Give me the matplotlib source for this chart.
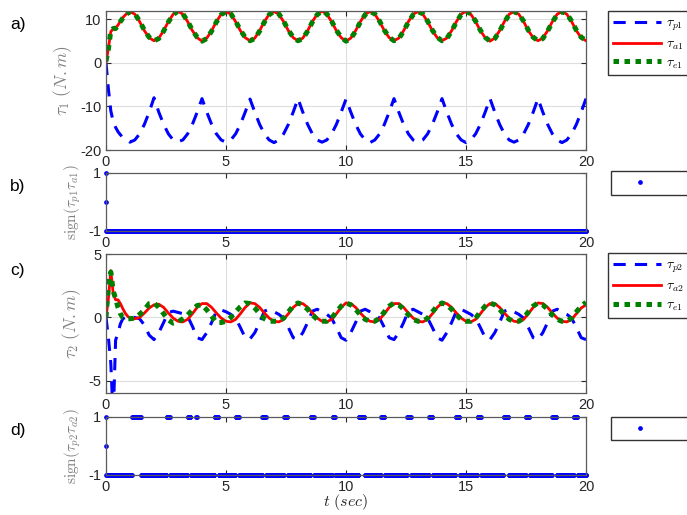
import numpy as np
import matplotlib.pyplot as plt

plt.rcParams['font.family'] = ['Liberation Sans', 'DejaVu Sans']
plt.rcParams['mathtext.fontset'] = 'cm'
plt.rcParams['axes.unicode_minus'] = False

# sample times: 0..0.9 every 0.1 s, then 1.0..20.0 every 0.2 s
t = np.round(np.r_[np.arange(0, 1, 0.1), np.arange(1, 20.01, 0.2)], 2)

# joint 1 torques (N.m)
tau_p1 = [0.0, -6.0, -11.0, -13.5, -14.8, -15.8, -16.5, -17.1, -17.5, -17.8,
          -18.2, -17.7, -16.3, -14.1, -11.3, -8.0, -11.3, -14.1, -16.3, -17.7,
          -18.1, -17.7, -16.3, -14.1, -11.3, -8.2, -11.3, -14.1, -16.3, -17.7,
          -18.2, -17.7, -16.3, -14.1, -11.3, -8.3, -11.3, -14.1, -16.3, -17.7,
          -18.3, -17.7, -16.3, -14.1, -11.3, -8.2, -11.3, -14.1, -16.3, -17.7,
          -18.2, -17.7, -16.3, -14.1, -11.3, -8.3, -11.3, -14.1, -16.3, -17.7,
          -18.3, -17.7, -16.3, -14.1, -11.3, -8.2, -11.3, -14.1, -16.3, -17.7,
          -18.2, -17.7, -16.3, -14.1, -11.3, -8.2, -11.3, -14.1, -16.3, -17.7,
          -18.3, -17.7, -16.3, -14.1, -11.3, -8.2, -11.3, -14.1, -16.3, -17.7,
          -18.2, -17.7, -16.3, -14.1, -11.3, -8.2, -11.3, -14.1, -16.3, -17.7,
          -18.3, -17.7, -16.3, -14.1, -11.3, -8.2]
tau_a1 = [0.0, 3.4, 7.2, 7.8, 8.0, 8.7, 9.6, 10.4, 11.0, 11.5,
          11.8, 11.2, 9.5, 7.4, 5.8, 5.1, 5.7, 7.4, 9.5, 11.2,
          11.9, 11.2, 9.5, 7.4, 5.8, 5.0, 5.7, 7.4, 9.5, 11.2,
          11.8, 11.2, 9.5, 7.4, 5.8, 5.1, 5.7, 7.4, 9.5, 11.2,
          11.8, 11.2, 9.5, 7.4, 5.8, 5.1, 5.7, 7.4, 9.5, 11.2,
          11.9, 11.2, 9.5, 7.4, 5.8, 5.0, 5.7, 7.4, 9.5, 11.2,
          11.8, 11.2, 9.5, 7.4, 5.8, 5.1, 5.7, 7.4, 9.5, 11.2,
          11.8, 11.2, 9.5, 7.4, 5.8, 5.1, 5.7, 7.4, 9.5, 11.2,
          11.9, 11.2, 9.5, 7.4, 5.8, 5.0, 5.7, 7.4, 9.5, 11.2,
          11.8, 11.2, 9.5, 7.4, 5.8, 5.1, 5.7, 7.4, 9.5, 11.2,
          11.8, 11.2, 9.5, 7.4, 5.8, 5.1]
tau_e1 = [0.4, 3.2, 7.4, 7.9, 7.9, 8.6, 9.5, 10.3, 11.0, 11.4,
          11.8, 11.3, 9.6, 7.5, 5.9, 5.1, 5.6, 7.3, 9.4, 11.1,
          11.9, 11.3, 9.6, 7.5, 5.9, 5.0, 5.6, 7.3, 9.4, 11.1,
          11.8, 11.3, 9.6, 7.5, 5.9, 5.1, 5.6, 7.3, 9.4, 11.1,
          11.8, 11.3, 9.6, 7.5, 5.9, 5.1, 5.6, 7.3, 9.4, 11.1,
          11.9, 11.3, 9.6, 7.5, 5.9, 5.0, 5.6, 7.3, 9.4, 11.1,
          11.8, 11.3, 9.6, 7.5, 5.9, 5.1, 5.6, 7.3, 9.4, 11.1,
          11.8, 11.3, 9.6, 7.5, 5.9, 5.1, 5.6, 7.3, 9.4, 11.1,
          11.9, 11.3, 9.6, 7.5, 5.9, 5.0, 5.6, 7.3, 9.4, 11.1,
          11.8, 11.3, 9.6, 7.5, 5.9, 5.1, 5.6, 7.3, 9.4, 11.1,
          11.8, 11.3, 9.6, 7.5, 5.9, 5.2]

# joint 2 torques (N.m)
tau_p2 = [0.0, -1.6, -3.6, -8.0, -1.8, -1.2, -0.5, -0.1, 0.0, 0.05,
          0.05, 0.0, -0.1, -0.6, -1.4,
          -1.75, -1.2, -0.4, 0.4, 0.5, 0.4, 0.3, 0.1, -0.7, -1.6,
          -1.75, -1.2, -0.4, 0.5, 0.6, 0.45, 0.25, -0.05, -0.8, -1.6,
          -1.7, -1.2, -0.4, 0.5, 0.65, 0.45, 0.25, -0.05, -0.8, -1.6,
          -1.75, -1.2, -0.4, 0.5, 0.65, 0.45, 0.25, -0.05, -0.8, -1.6,
          -1.8, -1.2, -0.4, 0.5, 0.65, 0.45, 0.25, -0.05, -0.8, -1.6,
          -1.75, -1.2, -0.4, 0.5, 0.65, 0.45, 0.25, -0.05, -0.8, -1.6,
          -1.8, -1.2, -0.4, 0.5, 0.65, 0.45, 0.25, -0.05, -0.8, -1.6,
          -1.75, -1.2, -0.4, 0.5, 0.65, 0.45, 0.25, -0.05, -0.8, -1.6,
          -1.75, -1.2, -0.4, 0.5, 0.65, 0.45, 0.25, -0.05, -0.8, -1.6,
          -1.75]
tau_a2 = [0.0, 1.5, 3.7, 1.9, 1.4, 1.4, 1.1, 0.7, 0.35, 0.1,
          -0.05, -0.1, 0.0, 0.35, 0.75, 1.0, 1.05, 0.8, 0.35, -0.05,
          -0.3, -0.35, -0.15, 0.3, 0.8, 1.1, 1.1, 0.8, 0.35, -0.05,
          -0.3, -0.35, -0.15, 0.3, 0.8, 1.15, 1.1, 0.8, 0.35, -0.05,
          -0.3, -0.35, -0.15, 0.3, 0.8, 1.1, 1.1, 0.8, 0.35, -0.05,
          -0.3, -0.35, -0.15, 0.3, 0.8, 1.15, 1.1, 0.8, 0.35, -0.05,
          -0.3, -0.35, -0.15, 0.3, 0.8, 1.1, 1.1, 0.8, 0.35, -0.05,
          -0.3, -0.35, -0.15, 0.3, 0.8, 1.15, 1.1, 0.8, 0.35, -0.05,
          -0.3, -0.35, -0.15, 0.3, 0.8, 1.1, 1.1, 0.8, 0.35, -0.05,
          -0.3, -0.35, -0.15, 0.3, 0.8, 1.15, 1.1, 0.8, 0.35, -0.05,
          -0.3, -0.35, -0.15, 0.3, 0.75, 1.0]
tau_e2 = [0.0, 2.5, 3.6, 2.1, 1.5, 0.8, 0.3, 0.0, -0.05, -0.1,
          -0.1, -0.05, 0.25, 0.6, 1.1, 1.15, 0.8, 0.3, -0.2, -0.45,
          -0.35, -0.1, 0.2, 0.6, 0.95, 1.0, 0.6, 0.1, -0.4, -0.4,
          -0.3, 0.0, 0.45, 0.85, 1.15, 1.1, 0.75, 0.3, -0.1, -0.3,
          -0.3, -0.3, -0.05, 0.45, 0.9, 1.15, 1.0, 0.65, 0.2, -0.15,
          -0.3, -0.3, -0.05, 0.45, 0.9, 1.15, 1.0, 0.65, 0.2, -0.15,
          -0.3, -0.3, -0.05, 0.45, 0.9, 1.15, 1.0, 0.65, 0.2, -0.15,
          -0.3, -0.3, -0.05, 0.45, 0.9, 1.15, 1.0, 0.65, 0.2, -0.15,
          -0.3, -0.3, -0.05, 0.45, 0.9, 1.15, 1.0, 0.65, 0.2, -0.15,
          -0.3, -0.3, -0.05, 0.45, 0.9, 1.15, 1.0, 0.65, 0.2, -0.15,
          -0.3, -0.3, -0.05, 0.45, 0.9, 1.2]

# sign plots: first two samples at t=0, then -1 except on the "+1" intervals
sign_head = [1, 0]
sign1_low = -1
sign2_plus_start = [1.10, 2.53, 3.40, 3.76, 4.53, 5.40, 6.52, 7.42, 8.53, 9.43,
                    10.54, 11.45, 12.56, 13.46, 14.57, 15.47, 16.58, 17.49, 18.60, 19.50]
sign2_plus_end = [1.45, 2.67, 3.53, 3.79, 4.69, 5.55, 6.66, 7.57, 8.67, 9.55,
                  10.76, 11.60, 12.71, 13.61, 14.72, 15.62, 16.77, 17.64, 18.77, 19.65]

t_sign = np.round(np.arange(0.02, 20.001, 0.02), 2)
sign1 = np.full(t_sign.size, sign1_low, dtype=float)
sign2 = np.full(t_sign.size, -1.0)
for a, b in zip(sign2_plus_start, sign2_plus_end):
    sign2[(t_sign >= a) & (t_sign <= b)] = 1.0

W, H = 687, 515
fig = plt.figure(figsize=(W / 100, H / 100), dpi=100)

def px_axes(top, bottom):
    return fig.add_axes([106 / W, 1 - bottom / H, 480 / W, (bottom - top) / H])

ax_a = px_axes(10.7, 150)
ax_b = px_axes(172.7, 230.7)
ax_c = px_axes(254.3, 393.3)
ax_d = px_axes(416.7, 475)

dash = dict(color='#0000ff', lw=2.2, linestyle=(0, (4, 3)))
solid = dict(color='#ff0000', lw=2.0)
dots = dict(color='#008000', lw=3.6, linestyle=(0, (1.1, 1.1)))

la = [ax_a.plot(t, tau_p1, **dash)[0],
      ax_a.plot(t, tau_a1, **solid)[0],
      ax_a.plot(t, tau_e1, **dots)[0]]
lc = [ax_c.plot(t, tau_p2, **dash)[0],
      ax_c.plot(t, tau_a2, **solid)[0],
      ax_c.plot(t, tau_e2, **dots)[0]]

dot = dict(linestyle='none', marker='o', ms=3.4, mec='none', color='#0000ff', clip_on=False)
lb = ax_b.plot(t_sign, sign1, **dot)[0]
ax_b.plot([0, 0], sign_head, **dot)
ld = ax_d.plot(t_sign, sign2, **dot)[0]
ax_d.plot([0, 0], sign_head, **dot)

ax_a.set_ylim(-20, 12)
ax_a.set_yticks([-20, -10, 0, 10])
ax_c.set_ylim(-6, 5)
ax_c.set_yticks([-5, 0, 5])
for ax in (ax_b, ax_d):
    ax.set_ylim(-1, 1)
    ax.set_yticks([-1, 1])

for ax in (ax_a, ax_b, ax_c, ax_d):
    ax.set_xlim(0, 20)
    ax.set_xticks([0, 5, 10, 15, 20])
    ax.tick_params(direction='in', top=True, right=True, length=3.5, width=0.8,
                   colors='#262626', labelsize=10.5)
    for s in ax.spines.values():
        s.set_color('#5a5a5a')
        s.set_linewidth(0.9)
for ax in (ax_a, ax_c):
    ax.grid(True, color='#dedede', lw=0.8)

lab = dict(color='#808080')
ax_a.set_ylabel(r'$\tau_1\ (N.m)$', fontsize=12.5, **lab)
ax_b.set_ylabel(r'$\mathrm{sign}(\tau_{p1}\tau_{a1})$', fontsize=11, **lab)
ax_c.set_ylabel(r'$\tau_2\ (N.m)$', fontsize=12.5, **lab)
ax_d.set_ylabel(r'$\mathrm{sign}(\tau_{p2}\tau_{a2})$', fontsize=11, **lab)
ax_d.set_xlabel(r'$t\ (sec)$', fontsize=11.5, color='#262626', labelpad=-1)

for txt, y in (('a)', 24), ('b)', 187), ('c)', 270), ('d)', 431)):
    fig.text(10 / W, 1 - y / H, txt, fontsize=12.5, va='center', ha='left')

leg = dict(loc='upper left', fontsize=10, handlelength=3.5, handletextpad=0.35,
           borderpad=0.35, labelspacing=0.25, borderaxespad=0, fancybox=False,
           framealpha=1, edgecolor='#333333', bbox_transform=fig.transFigure)
ax_a.legend(la, [r'$\tau_{p1}$', r'$\tau_{a1}$', r'$\tau_{e1}$'],
            bbox_to_anchor=(608 / W, 1 - 10.7 / H), **leg)
ax_c.legend(lc, [r'$\tau_{p2}$', r'$\tau_{a2}$', r'$\tau_{e1}$'],
            bbox_to_anchor=(608 / W, 1 - 253 / H), **leg)
ax_b.legend([lb], ['      '], numpoints=1, bbox_to_anchor=(611 / W, 1 - 171 / H), **leg)
ax_d.legend([ld], ['      '], numpoints=1, bbox_to_anchor=(611 / W, 1 - 416.7 / H), **leg)

fig.savefig('out.png', dpi=100)
